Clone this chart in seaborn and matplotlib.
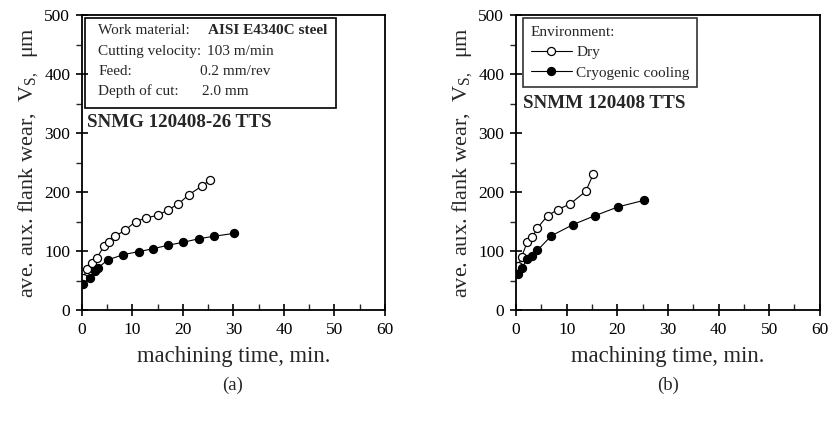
import numpy as np
import pandas as pd
import matplotlib
matplotlib.use("Agg")
import matplotlib.pyplot as plt
from matplotlib.ticker import MultipleLocator
from matplotlib.patches import Rectangle
import seaborn as sns

# ---- data ----
a_dry_t = [0.26, 0.9, 2.0, 3.0, 4.4, 5.4, 6.5, 8.5, 10.6, 12.7, 15.1, 17.1, 19.1, 21.1, 23.7, 25.3]
a_dry_v = [54, 69, 79, 89, 109, 116, 125, 135, 150, 156, 161, 170, 180, 195, 210, 220]
a_cryo_t = [0.26, 1.5, 2.6, 3.1, 5.1, 8.2, 11.2, 14.1, 17.1, 20.1, 23.2, 26.1, 30.1]
a_cryo_v = [45, 54, 66, 71, 85, 94, 99, 104, 110, 115, 121, 125, 130]

b_dry_t = [0.46, 1.1, 2.2, 3.2, 4.2, 6.25, 8.2, 10.7, 13.75, 15.3]
b_dry_v = [75, 90, 115, 123, 139, 160, 170, 180, 201, 231]
b_cryo_t = [0.46, 1.25, 2.2, 3.2, 4.2, 7.0, 11.3, 15.6, 20.2, 25.3]
b_cryo_v = [61, 72, 87, 92, 101, 126, 145, 160, 175, 186]

series_names = ["Dry", "Cryogenic cooling"]
x_ticks = [0, 10, 20, 30, 40, 50, 60]
y_ticks = [0, 100, 200, 300, 400, 500]

sns.set_style("ticks")
plt.rcParams['font.family'] = ['Liberation Serif', 'DejaVu Serif']
plt.rcParams['mathtext.fontset'] = 'custom'
plt.rcParams['mathtext.rm'] = 'Liberation Serif'

fig = plt.figure(figsize=(8.3, 4.23), dpi=100)
ax1 = fig.add_axes([0.0988, 0.267, 0.365, 0.6974])
ax2 = fig.add_axes([0.6217, 0.267, 0.366, 0.6974])

def draw(ax, dt, dv, ct, cv):
    df_d = pd.DataFrame({"t": dt, "v": dv})
    df_c = pd.DataFrame({"t": ct, "v": cv})
    sns.lineplot(data=df_d, x="t", y="v", ax=ax, color="black", lw=0.8,
                 marker="o", markersize=5.8, markerfacecolor="white",
                 markeredgecolor="black", markeredgewidth=0.9, label=series_names[0])
    sns.lineplot(data=df_c, x="t", y="v", ax=ax, color="black", lw=0.8,
                 marker="o", markersize=5.8, markerfacecolor="black",
                 markeredgecolor="black", markeredgewidth=0.9, label=series_names[1])
    ax.set_xlim(0, 60)
    ax.set_ylim(0, 500)
    ax.set_xticks(x_ticks)
    ax.set_yticks(y_ticks)
    ax.xaxis.set_minor_locator(MultipleLocator(5))
    ax.yaxis.set_minor_locator(MultipleLocator(50))
    ax.tick_params(axis='both', which='major', direction='inout', length=9, width=1.2,
                   labelsize=12.5, colors='black', top=False, right=False, pad=4)
    ax.tick_params(axis='x', which='minor', direction='in', length=4, width=1.0, top=False)
    ax.tick_params(axis='y', which='minor', direction='out', length=4, width=1.0, right=False)
    for s in ax.spines.values():
        s.set_linewidth(1.3)
        s.set_color('black')
    ax.set_xlabel("machining time, min.", fontsize=16.3, labelpad=6)
    ax.set_ylabel("ave. aux. flank wear,  V$_{\\mathrm{S,}}$  μm", fontsize=16, labelpad=2)

draw(ax1, a_dry_t, a_dry_v, a_cryo_t, a_cryo_v)
draw(ax2, b_dry_t, b_dry_v, b_cryo_t, b_cryo_v)

# Panel (a) info box
ax1.get_legend().remove()
ax1.add_patch(Rectangle((0.01, 0.685), 0.83, 0.305, transform=ax1.transAxes,
                        fill=False, edgecolor='black', lw=1.2, zorder=5))
rows = [("Work material:", "AISI E4340C steel", 0.416, 'bold'),
        ("Cutting velocity:", "103 m/min", 0.412, 'normal'),
        ("Feed:", "0.2 mm/rev", 0.39, 'normal'),
        ("Depth of cut:", "2.0 mm", 0.395, 'normal')]
ys = [0.949, 0.877, 0.809, 0.741]
for (l, r, xr, w), yy in zip(rows, ys):
    ax1.text(0.053, yy, l, transform=ax1.transAxes, fontsize=11, va='center', ha='left')
    ax1.text(xr, yy, r, transform=ax1.transAxes, fontsize=11, va='center', ha='left', fontweight=w)
ax1.text(0.016, 0.637, "SNMG 120408-26 TTS", transform=ax1.transAxes, fontsize=13.7,
         fontweight='bold', va='center', ha='left')

# Panel (b) legend
leg = ax2.legend(title="Environment:", loc='upper left', bbox_to_anchor=(0.023, 0.99),
                 frameon=True, fancybox=False, edgecolor='black', fontsize=11,
                 title_fontsize=11, handlelength=2.7, handletextpad=0.3, alignment='left',
                 borderpad=0.5, labelspacing=0.45, borderaxespad=0)
leg.get_frame().set_linewidth(1.2)
ax2.text(0.023, 0.70, "SNMM 120408 TTS", transform=ax2.transAxes, fontsize=13.7,
         fontweight='bold', va='center', ha='left')

fig.text(233 / 830, 1 - 385 / 423, "(a)", fontsize=13.5, ha='center', va='center')
fig.text(668 / 830, 1 - 385 / 423, "(b)", fontsize=13.5, ha='center', va='center')

fig.savefig("out.png", dpi=100)
